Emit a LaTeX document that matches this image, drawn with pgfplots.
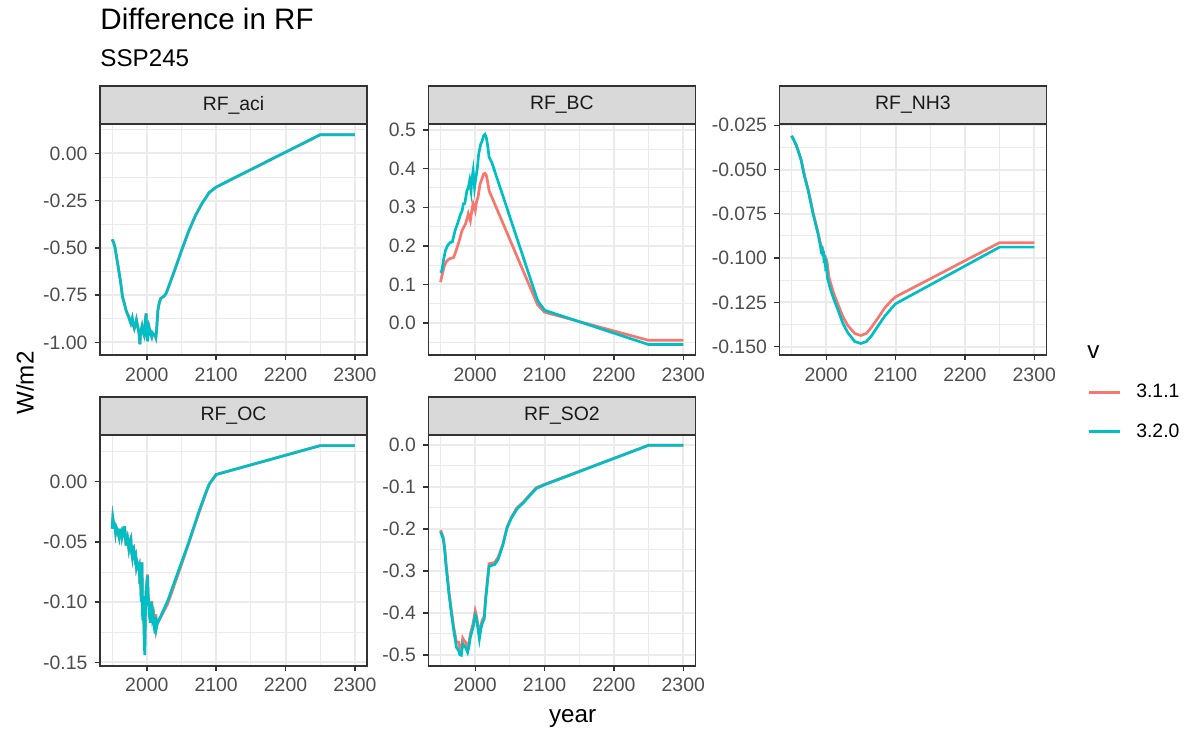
\documentclass[border=0pt]{standalone}
\usepackage{fontspec}
\setmainfont{Liberation Sans}
\usepackage{pgfplots}
\pgfplotsset{compat=1.18}
\usepackage{pgfplotstable}

\definecolor{c311}{HTML}{F8766D}
\definecolor{c320}{HTML}{00BFC4}
\definecolor{grey92}{HTML}{EBEBEB}
\definecolor{grey85}{HTML}{D9D9D9}
\definecolor{grey20}{HTML}{333333}
\definecolor{grey30}{HTML}{4D4D4D}
\definecolor{grey10}{HTML}{1A1A1A}

% RF_aci (both versions overlap)
\pgfplotstableread{
year val
1950 -0.455
1952 -0.470
1954 -0.496
1956 -0.540
1958 -0.583
1960 -0.630
1962 -0.675
1965 -0.760
1968 -0.800
1970 -0.830
1972 -0.850
1974 -0.865
1976 -0.890
1977 -0.900
1979 -0.873
1980 -0.900
1982 -0.926
1984 -0.900
1985 -0.882
1987 -0.920
1988 -0.935
1989 -0.960
1990 -1.010
1991 -0.950
1993 -0.917
1994 -0.940
1996 -0.961
1997 -0.920
1998 -0.880
1999 -0.847
2000 -0.950
2001 -0.995
2002 -0.940
2003 -0.917
2005 -0.950
2007 -0.970
2008 -0.950
2010 -0.960
2012 -0.965
2013 -0.975
2014 -0.940
2016 -0.830
2018 -0.790
2020 -0.768
2025 -0.755
2028 -0.740
2040 -0.620
2050 -0.515
2060 -0.415
2070 -0.330
2080 -0.262
2090 -0.207
2100 -0.178
2250 0.099
2300 0.099
}\aci

\pgfplotstableread{
year val
1950 0.106
1953 0.130
1955 0.145
1958 0.158
1962 0.166
1966 0.168
1969 0.170
1972 0.185
1974 0.196
1978 0.220
1981 0.240
1984 0.250
1986 0.257
1989 0.275
1990 0.283
1993 0.265
1995 0.290
1997 0.309
2000 0.291
2002 0.315
2004 0.326
2007 0.360
2010 0.375
2012 0.386
2014 0.388
2016 0.383
2018 0.365
2020 0.343
2090 0.047
2100 0.028
2250 -0.045
2300 -0.045
}\bcA

\pgfplotstableread{
year val
1950 0.130
1952 0.136
1954 0.160
1957 0.188
1960 0.200
1962 0.205
1965 0.210
1967 0.210
1969 0.225
1971 0.240
1975 0.260
1979 0.283
1981 0.290
1983 0.309
1985 0.310
1988 0.343
1990 0.350
1992 0.369
1994 0.343
1995 0.370
1997 0.395
1999 0.351
2001 0.378
2003 0.400
2005 0.438
2008 0.464
2010 0.472
2012 0.485
2014 0.489
2016 0.481
2018 0.460
2020 0.430
2024 0.416
2090 0.058
2100 0.033
2250 -0.056
2300 -0.056
}\bcB

\pgfplotstableread{
year val
1950 -0.0310
1957 -0.0363
1964 -0.0445
1969 -0.0538
1974 -0.0612
1981 -0.0742
1988 -0.0852
1991 -0.0905
1993 -0.0935
1995 -0.0955
1997 -0.0980
1999 -0.1000
2001 -0.1015
2004 -0.1110
2010 -0.1190
2017 -0.1262
2024 -0.1330
2031 -0.1380
2041 -0.1425
2050 -0.1437
2058 -0.1425
2065 -0.1392
2074 -0.1342
2084 -0.1283
2094 -0.1240
2100 -0.1219
2250 -0.0913
2300 -0.0913
}\nhA

\pgfplotstableread{
year val
1950 -0.0310
1953 -0.0330
1957 -0.0366
1960 -0.0400
1964 -0.0450
1967 -0.0510
1969 -0.0544
1974 -0.0619
1981 -0.0750
1988 -0.0860
1990 -0.0900
1992 -0.0940
1993 -0.0975
1994 -0.0930
1995 -0.0990
1996 -0.0960
1997 -0.1030
1998 -0.0985
1999 -0.1045
2000 -0.1035
2002 -0.1115
2006 -0.1175
2010 -0.1222
2017 -0.1293
2024 -0.1368
2031 -0.1420
2041 -0.1471
2050 -0.1482
2058 -0.1471
2065 -0.1440
2074 -0.1387
2084 -0.1330
2094 -0.1284
2100 -0.1258
2250 -0.0938
2300 -0.0938
}\nhB

\pgfplotstableread{
year val
1950 -0.039
1951 -0.030
1952 -0.034
1954 -0.036
1955 -0.042
1956 -0.038
1958 -0.041
1960 -0.046
1961 -0.040
1963 -0.040
1964 -0.045
1965 -0.041
1967 -0.044
1968 -0.037
1970 -0.053
1971 -0.048
1972 -0.046
1974 -0.055
1975 -0.050
1977 -0.047
1978 -0.058
1979 -0.062
1980 -0.056
1981 -0.055
1983 -0.064
1984 -0.062
1985 -0.070
1986 -0.067
1988 -0.072
1989 -0.070
1990 -0.085
1991 -0.081
1992 -0.098
1993 -0.067
1994 -0.112
1995 -0.095
1996 -0.120
1997 -0.138
1998 -0.108
1999 -0.090
2000 -0.083
2001 -0.077
2002 -0.095
2003 -0.101
2004 -0.110
2005 -0.115
2006 -0.106
2007 -0.099
2008 -0.108
2009 -0.104
2010 -0.115
2011 -0.119
2012 -0.122
2013 -0.110
2014 -0.119
2015 -0.118
2030 -0.1015
2045 -0.077
2060 -0.052
2075 -0.026
2085 -0.010
2090 -0.002
2100 0.006
2250 0.030
2300 0.030
}\ocA

\pgfplotstableread{
year val
1950 -0.039
1951 -0.030
1952 -0.034
1954 -0.036
1955 -0.042
1956 -0.038
1958 -0.041
1960 -0.046
1961 -0.040
1963 -0.040
1964 -0.045
1965 -0.041
1967 -0.044
1968 -0.037
1970 -0.053
1971 -0.048
1972 -0.046
1974 -0.055
1975 -0.050
1977 -0.047
1978 -0.058
1979 -0.062
1980 -0.056
1981 -0.055
1983 -0.064
1984 -0.062
1985 -0.070
1986 -0.067
1988 -0.072
1989 -0.070
1990 -0.085
1991 -0.081
1992 -0.100
1993 -0.067
1994 -0.115
1995 -0.095
1996 -0.125
1997 -0.144
1998 -0.110
1999 -0.090
2000 -0.085
2001 -0.078
2002 -0.095
2003 -0.103
2004 -0.112
2005 -0.117
2006 -0.108
2007 -0.100
2008 -0.110
2009 -0.106
2010 -0.118
2011 -0.122
2012 -0.126
2013 -0.112
2014 -0.121
2015 -0.118
2030 -0.099
2045 -0.075
2060 -0.051
2075 -0.025
2085 -0.009
2090 -0.002
2100 0.006
2250 0.030
2300 0.030
}\ocB

\pgfplotstableread{
year val
1950 -0.203
1952 -0.211
1954 -0.221
1956 -0.246
1958 -0.284
1960 -0.315
1962 -0.347
1965 -0.386
1969 -0.434
1973 -0.470
1976 -0.470
1978 -0.485
1980 -0.490
1982 -0.460
1984 -0.466
1986 -0.470
1989 -0.485
1991 -0.470
1993 -0.450
1997 -0.425
2000 -0.395
2002 -0.408
2003 -0.420
2006 -0.452
2008 -0.432
2010 -0.418
2013 -0.408
2015 -0.364
2017 -0.331
2020 -0.283
2028 -0.280
2033 -0.268
2040 -0.236
2046 -0.195
2052 -0.173
2060 -0.150
2070 -0.135
2079 -0.118
2088 -0.102
2100 -0.094
2250 -0.001
2300 -0.001
}\soA

\pgfplotstableread{
year val
1950 -0.207
1952 -0.215
1954 -0.225
1956 -0.250
1958 -0.289
1960 -0.320
1962 -0.353
1965 -0.393
1969 -0.442
1973 -0.482
1976 -0.490
1978 -0.500
1980 -0.501
1982 -0.474
1984 -0.478
1986 -0.482
1989 -0.494
1991 -0.480
1993 -0.458
1997 -0.434
2000 -0.406
2002 -0.415
2003 -0.426
2006 -0.462
2008 -0.440
2010 -0.426
2013 -0.414
2015 -0.370
2017 -0.337
2020 -0.289
2028 -0.285
2033 -0.273
2040 -0.238
2046 -0.197
2052 -0.175
2060 -0.153
2070 -0.137
2079 -0.120
2088 -0.104
2100 -0.095
2250 -0.001
2300 -0.001
}\soB

\newcommand{\tickfont}{\fontsize{9.7}{11}\selectfont}
\newcommand{\titlefont}{\fontsize{12.1}{14}\selectfont}

\pgfplotsset{
  facet/.style={
    scale only axis, width=133.5pt, height=115.5pt, anchor=south west,
    xmin=1932.5, xmax=2317.5,
    xtick={2000,2100,2200,2300}, xticklabels={2000,2100,2200,2300},
    minor xtick={1950,2050,2150,2250},
    grid=both,
    major grid style={grey92, line width=1pt},
    minor grid style={grey92, line width=0.5pt},
    axis line style={grey20, line width=0.8pt},
    tick align=outside, tick pos=left,
    major tick length=2.75pt, minor tick length=0pt,
    tick style={grey20, line width=0.7pt},
    tick label style={font=\tickfont, text=grey30},
  },
  v311/.style={c311, line width=1.35pt, no marks},
  v320/.style={c320, line width=1.35pt, no marks},
}

\newcommand{\strip}[3]{%
  \draw[fill=grey85, draw=grey20, line width=0.8pt] (#1,#2) rectangle ++(133.5pt,19pt);
  \node[text=grey10, font=\tickfont] at ([xshift=66.75pt,yshift=9.5pt]#1,#2) {#3};}

\begin{document}
\begin{tikzpicture}
\useasboundingbox (0,0) rectangle (595.5pt,365.5pt);

% RF_aci
\begin{axis}[facet, at={(50pt,188pt)},
  ymin=-1.067, ymax=0.156,
  ytick={-1,-0.75,-0.5,-0.25,0}, yticklabels={-1.00,-0.75,-0.50,-0.25,0.00},
  minor ytick={-0.875,-0.625,-0.375,-0.125,0.125}]
\addplot[v311] table[x=year,y=val] {\aci};
\addplot[v320] table[x=year,y=val] {\aci};
\end{axis}

% RF_BC
\begin{axis}[facet, at={(214.2pt,188pt)},
  ymin=-0.083, ymax=0.516,
  ytick={0,0.1,0.2,0.3,0.4,0.5}, yticklabels={0.0,0.1,0.2,0.3,0.4,0.5},
  minor ytick={-0.05,0.05,0.15,0.25,0.35,0.45}]
\addplot[v311] table[x=year,y=val] {\bcA};
\addplot[v320] table[x=year,y=val] {\bcB};
\end{axis}

% RF_NH3
\begin{axis}[facet, at={(389.7pt,188pt)},
  ymin=-0.1547, ymax=-0.0243,
  ytick={-0.15,-0.125,-0.1,-0.075,-0.05,-0.025},
  yticklabels={-0.150,-0.125,-0.100,-0.075,-0.050,-0.025},
  minor ytick={-0.1375,-0.1125,-0.0875,-0.0625,-0.0375},
  legend style={at={(axis description cs:1.152,-0.247)}, anchor=west,
    draw=none, fill=none, inner sep=0pt, row sep=7.5pt, column sep=5.3pt,
    font=\tickfont},
  legend cell align=left,
  legend image code/.code={\draw[#1] (0pt,0pt) -- (15.8pt,0pt);}]
\addplot[v311] table[x=year,y=val] {\nhA};
\addlegendentry{3.1.1}
\addplot[v320] table[x=year,y=val] {\nhB};
\addlegendentry{3.2.0}
\end{axis}

% RF_OC
\begin{axis}[facet, at={(50pt,32.6pt)},
  ymin=-0.1528, ymax=0.039,
  ytick={-0.15,-0.1,-0.05,0}, yticklabels={-0.15,-0.10,-0.05,0.00},
  minor ytick={-0.125,-0.075,-0.025,0.025}]
\addplot[v311] table[x=year,y=val] {\ocA};
\addplot[v320] table[x=year,y=val] {\ocB};
\end{axis}

% RF_SO2
\begin{axis}[facet, at={(214.2pt,32.6pt)},
  ymin=-0.526, ymax=0.024,
  ytick={-0.5,-0.4,-0.3,-0.2,-0.1,0}, yticklabels={-0.5,-0.4,-0.3,-0.2,-0.1,0.0},
  minor ytick={-0.45,-0.35,-0.25,-0.15,-0.05}]
\addplot[v311] table[x=year,y=val] {\soA};
\addplot[v320] table[x=year,y=val] {\soB};
\end{axis}

% facet strips
\strip{50pt}{303.5pt}{RF\_aci}
\strip{214.2pt}{303.5pt}{RF\_BC}
\strip{389.7pt}{303.5pt}{RF\_NH3}
\strip{50pt}{148.1pt}{RF\_OC}
\strip{214.2pt}{148.1pt}{RF\_SO2}

% titles
\node[anchor=base west, font=\fontsize{14.8}{17}\selectfont, inner sep=0pt] at (50pt,350.5pt) {Difference in RF};
\node[anchor=base west, font=\titlefont, inner sep=0pt] at (50pt,332.2pt) {SSP245};
\node[rotate=90, font=\titlefont, inner sep=0pt] at (12.5pt,174pt) {W/m2};
\node[anchor=base, font=\titlefont, inner sep=0pt] at (286.3pt,4pt) {year};
\node[anchor=base west, font=\titlefont, inner sep=0pt] at (543.5pt,186.4pt) {v};
\end{tikzpicture}
\end{document}
